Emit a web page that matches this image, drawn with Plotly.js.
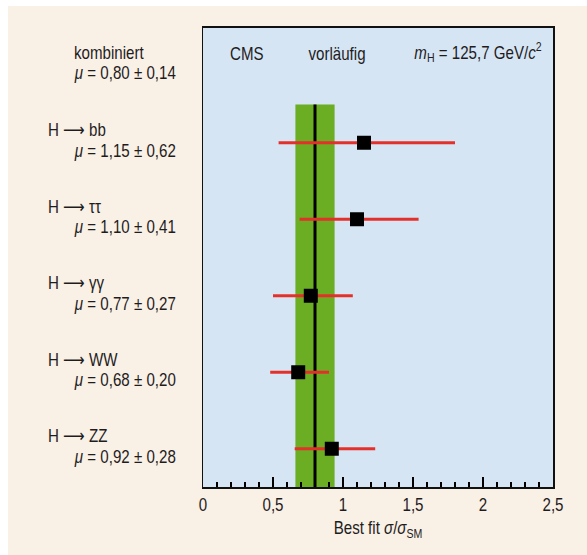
<!DOCTYPE html>
<html>
<head>
<meta charset="utf-8">
<script src="https://cdn.plot.ly/plotly-3.0.1.min.js"></script>
<style>html,body{margin:0;padding:0;background:#fff}#chart{width:587px;height:555px}</style>
</head>
<body>
<div id="chart"></div>
<script>
// Data
const channels = ["ZZ", "WW", "γγ", "ττ", "bb"];
const channelPos = [0, 1, 2, 3, 4];
const muValues = [0.92, 0.68, 0.77, 1.10, 1.15];
const errPlus = [0.31, 0.22, 0.30, 0.44, 0.65];
const errMinus = [0.265, 0.20, 0.27, 0.41, 0.61];
const labelMu = ["0,92 ± 0,28", "0,68 ± 0,20", "0,77 ± 0,27", "1,10 ± 0,41", "1,15 ± 0,62"];
const combinedPos = 5;
const combinedMu = 0.80;
const combinedErr = 0.14;
const combinedLabel = "0,80 ± 0,14";
const xTicks = [0, 0.5, 1, 1.5, 2, 2.5];
const xTickText = ["0", "0,5", "1", "1,5", "2", "2,5"];

const FONT = '"Liberation Sans", Arial, sans-serif';
const TXT = '#1f1c1d';
const L = 203, R = 553, T = 28, B = 487;
const W = 587, H = 555;
const px = p => (p - L) / (R - L);
const py = p => (B - p) / (B - T);

const trace = {
  type: 'scatter', mode: 'markers',
  x: muValues, y: channelPos,
  marker: {symbol: 'square', size: 14, color: '#000'},
  error_x: {type: 'data', symmetric: false, array: errPlus, arrayminus: errMinus,
            color: '#e3302b', thickness: 3.2, width: 0},
  cliponaxis: false, hoverinfo: 'skip'
};

const fnt = {family: FONT, size: 18, color: TXT};
const ARROW = '<span style="font-family:\'DejaVu Sans\'">⟶</span>';
const annotations = [];
channels.forEach((c, i) => {
  annotations.push({xref: 'paper', yref: 'y', x: px(46), y: channelPos[i], yshift: 13,
    xanchor: 'left', align: 'left', yanchor: 'middle', showarrow: false,
    text: 'H ' + ARROW + ' ' + c, font: fnt});
  annotations.push({xref: 'paper', yref: 'y', x: px(72), y: channelPos[i], yshift: -8,
    xanchor: 'left', align: 'left', yanchor: 'middle', showarrow: false,
    text: '<i>μ</i> = ' + labelMu[i], font: fnt});
});
annotations.push({xref: 'paper', yref: 'y', x: px(72), y: combinedPos, yshift: 13,
  xanchor: 'left', align: 'left', yanchor: 'middle', showarrow: false,
  text: 'kombiniert', font: fnt});
annotations.push({xref: 'paper', yref: 'y', x: px(72), y: combinedPos, yshift: -7,
  xanchor: 'left', align: 'left', yanchor: 'middle', showarrow: false,
  text: '<i>μ</i> = ' + combinedLabel, font: fnt});
annotations.push({xref: 'paper', yref: 'paper', x: px(228), y: py(54),
  xanchor: 'left', align: 'left', yanchor: 'middle', showarrow: false,
  text: 'CMS', font: fnt});
annotations.push({xref: 'paper', yref: 'paper', x: px(337), y: py(54),
  xanchor: 'center', align: 'center', yanchor: 'middle', showarrow: false,
  text: 'vorläufig', font: fnt});
annotations.push({xref: 'paper', yref: 'paper', x: px(544), y: py(52),
  xanchor: 'right', align: 'right', yanchor: 'middle', showarrow: false,
  text: '<i>m</i><sub>H</sub> = 125,7 GeV/<i>c</i><sup>2</sup>', font: fnt});

const shapes = [
  {type: 'rect', xref: 'x', yref: 'y', layer: 'below',
   x0: combinedMu - combinedErr, x1: combinedMu + combinedErr, y0: -0.5, y1: combinedPos - 0.5,
   fillcolor: '#6bae23', line: {width: 0}},
  {type: 'line', xref: 'x', yref: 'y', layer: 'below',
   x0: combinedMu, x1: combinedMu, y0: -0.5, y1: combinedPos - 0.5,
   line: {color: '#000', width: 3}},
  {type: 'rect', xref: 'paper', yref: 'paper', layer: 'above',
   x0: px(0), x1: px(W), y0: py(0), y1: py(6), fillcolor: '#fff', line: {width: 0}},
  {type: 'rect', xref: 'paper', yref: 'paper', layer: 'above',
   x0: px(0), x1: px(8), y0: py(0), y1: py(H), fillcolor: '#fff', line: {width: 0}}
];

const layout = {
  width: W, height: H,
  margin: {l: L, r: W - R, t: T, b: H - B, pad: 0},
  paper_bgcolor: '#f9f0e6', plot_bgcolor: '#d5e5f4',
  separators: ', ',
  showlegend: false,
  font: fnt,
  xaxis: {range: [0, 2.5], tickvals: xTicks, ticktext: xTickText,
    ticks: 'inside', ticklen: 10, tickwidth: 1.5, tickcolor: '#000',
    minor: {ticks: 'inside', ticklen: 5, tickwidth: 1.5, tickcolor: '#000', dtick: 0.1, tick0: 0, showgrid: false},
    showline: true, linewidth: 2, linecolor: '#111', mirror: true,
    showgrid: false, zeroline: false,
    tickfont: fnt,
    title: {text: 'Best fit <i>σ</i>/<i>σ</i><sub>SM</sub>', font: fnt, standoff: 8}},
  yaxis: {range: [-0.5, 5.5], tickvals: [], showticklabels: false, ticks: '', showgrid: false, zeroline: false,
    showline: true, linewidth: 1.5, linecolor: '#111', mirror: true},
  annotations: annotations,
  shapes: shapes
};

// Condense text horizontally (the original uses a condensed typeface)
const SQUEEZE = 0.84;
function condense(gd) {
  const originFor = a => a === 'start' ? 'left' : (a === 'end' ? 'right' : 'center');
  gd.querySelectorAll('text.annotation-text, g.xtick text, text.xtitle').forEach(t => {
    const anchor = t.getAttribute('text-anchor') || 'start';
    const base = (t.getAttribute('transform') || '').trim();
    t.style.transformBox = 'fill-box';
    t.style.transformOrigin = originFor(anchor) + ' center';
    t.style.transform = (base ? base.replace(/translate\(([^,)]+)[ ,]+([^)]+)\)/, 'translate($1px,$2px)') + ' ' : '') + 'scaleX(' + SQUEEZE + ')';
  });
}

Plotly.newPlot('chart', [trace], layout, {staticPlot: true, displayModeBar: false})
  .then(gd => condense(gd));
</script>
</body>
</html>
